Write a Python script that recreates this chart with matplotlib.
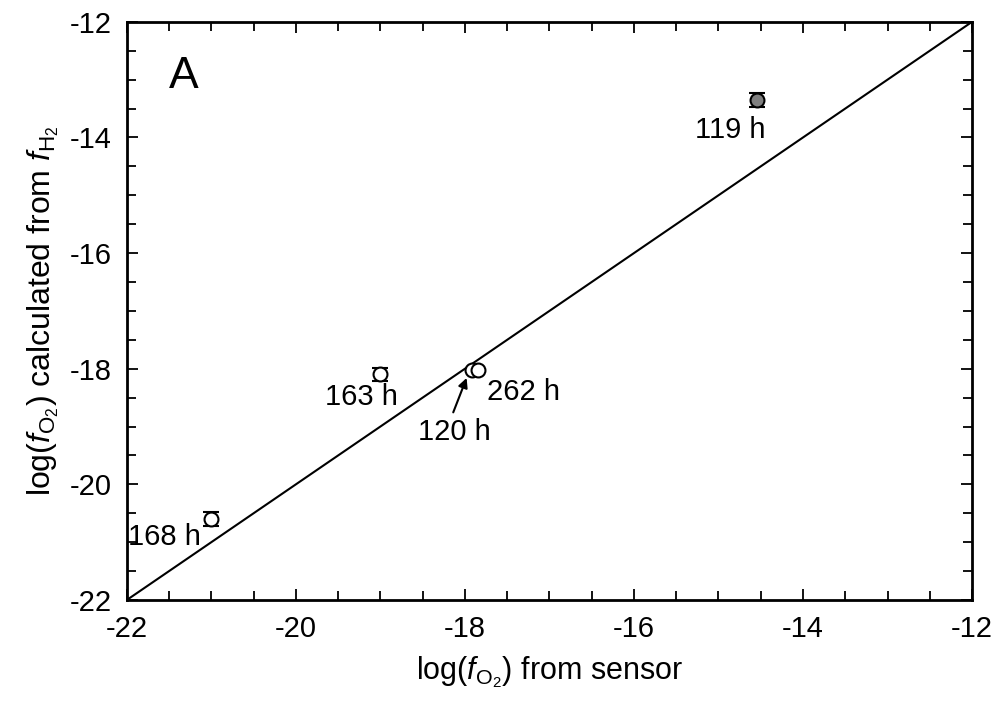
import matplotlib
matplotlib.use('Agg')
import matplotlib.pyplot as plt
from matplotlib.ticker import MultipleLocator

plt.rcParams['font.family'] = 'Liberation Sans'
plt.rcParams['mathtext.fontset'] = 'custom'
plt.rcParams['mathtext.rm'] = 'Liberation Sans'
plt.rcParams['mathtext.it'] = 'Liberation Sans:italic'
plt.rcParams['axes.unicode_minus'] = False

# data
labels = ['119 h', '163 h', '120 h', '262 h', '168 h']
sensor = [-14.54, -19.0, -17.92, -17.85, -21.0]
calc_h2 = [-13.35, -18.1, -18.02, -18.02, -20.6]
yerr = [0.12, 0.12, 0.0, 0.0, 0.12]
faces = ['#7f7f7f', 'white', 'white', 'white', 'white']
label_pos = [(-14.86, -13.87), (-19.22, -18.49), (-18.12, -19.09), (-17.31, -18.40), (-21.55, -20.91)]

fig = plt.figure(figsize=(9.99, 7.05), dpi=100)
ax = fig.add_axes([0.127, 0.149, 0.846, 0.82])

ax.plot([-22, -12], [-22, -12], color='black', lw=1.5, zorder=1)

for x, y, e, fc in zip(sensor, calc_h2, yerr, faces):
    if e > 0:
        ax.errorbar(x, y, yerr=e, fmt='none', ecolor='black', elinewidth=1.2,
                    capsize=6, capthick=1.5, zorder=2)
    ax.plot(x, y, 'o', ms=10, mfc=fc, mec='black', mew=1.5, zorder=3)

for lab, (tx, ty) in zip(labels, label_pos):
    if lab == '120 h':
        ax.annotate(lab, xy=(-17.98, -18.16), xytext=(tx, ty), fontsize=21,
                    ha='center', va='center',
                    arrowprops=dict(arrowstyle='-|>', color='black', lw=1.5,
                                    relpos=(0.45, 1.0), shrinkA=2, shrinkB=0,
                                    mutation_scale=14))
    else:
        ax.text(tx, ty, lab, fontsize=21, ha='center', va='center')

ax.text(-21.33, -12.95, 'A', fontsize=32, ha='center', va='center')

ax.set_xlim(-22, -12)
ax.set_ylim(-22, -12)
ax.xaxis.set_major_locator(MultipleLocator(2))
ax.xaxis.set_minor_locator(MultipleLocator(0.5))
ax.yaxis.set_major_locator(MultipleLocator(2))
ax.yaxis.set_minor_locator(MultipleLocator(0.5))
ax.tick_params(which='both', direction='in', top=True, right=True, width=1.3)
ax.tick_params(which='major', length=8, labelsize=21, pad=11)
ax.tick_params(which='minor', length=6.5)
for s in ax.spines.values():
    s.set_linewidth(2)

ax.set_xlabel('log($f_{\\mathrm{O_2}}$) from sensor', fontsize=22, labelpad=8)
ax.set_ylabel('log($f_{\\mathrm{O_2}}$) calculated from $f_{\\mathrm{H_2}}$', fontsize=23, labelpad=6)

fig.savefig('out.png', dpi=100)
